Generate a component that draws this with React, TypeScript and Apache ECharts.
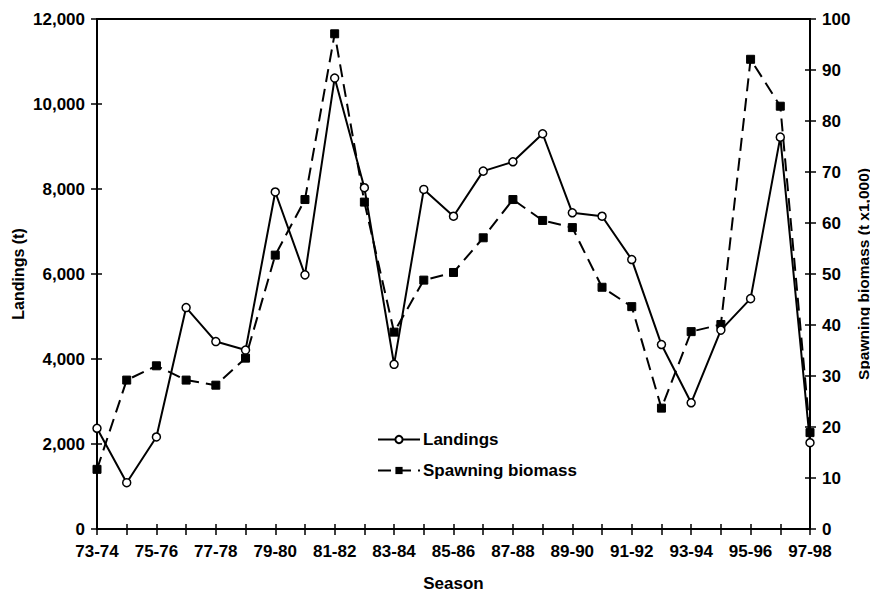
import React, { useEffect, useRef } from "react";
import * as echarts from "echarts";

const seasons = [
  "73-74", "74-75", "75-76", "76-77", "77-78", "78-79", "79-80", "80-81", "81-82",
  "82-83", "83-84", "84-85", "85-86", "86-87", "87-88", "88-89", "89-90", "90-91",
  "91-92", "92-93", "93-94", "94-95", "95-96", "96-97", "97-98",
];
const landings = [
  2370, 1090, 2165, 5210, 4410, 4210, 7930, 5980, 10610, 8030, 3875, 7990, 7360,
  8420, 8640, 9300, 7440, 7360, 6340, 4340, 2970, 4680, 5420, 9220, 2030,
];
const spawningBiomass = [
  11.7, 29.2, 32.0, 29.2, 28.2, 33.5, 53.7, 64.6, 97.1, 64.1, 38.6, 48.8, 50.3,
  57.1, 64.6, 60.5, 59.1, 47.4, 43.6, 23.7, 38.7, 40.1, 92.1, 82.9, 18.9,
];

const FONT = "Liberation Sans";
const textStyle = { fontFamily: FONT, fontWeight: "bold" as const, fontSize: 17, color: "#000" };

export default function App() {
  const ref = useRef<HTMLDivElement>(null);
  useEffect(() => {
    if (!ref.current) return;
    const chart = echarts.init(ref.current, null, { renderer: "svg" });
    chart.setOption({
      animation: false,
      backgroundColor: "#fff",
      textStyle: { fontFamily: FONT },
      grid: {
        left: 97, right: 60, top: 19, bottom: 63,
        containLabel: false,
        outerBoundsMode: "none",
        show: true, borderColor: "#000", borderWidth: 2,
      },
      legend: {
        orient: "vertical",
        left: 372, top: 426,
        itemWidth: 42, itemHeight: 9, itemGap: 14,
        textStyle: { ...textStyle, padding: [0, 0, 0, -2] },
        data: ["Landings", "Spawning biomass"],
      },
      xAxis: [
        {
          type: "category", data: seasons, boundaryGap: false,
          name: "Season", nameLocation: "middle", nameGap: 46,
          nameTextStyle: textStyle,
          axisLine: { lineStyle: { color: "#000", width: 2 } },
          axisTick: { show: true, length: 6, interval: 0, lineStyle: { color: "#000", width: 1.5 } },
          axisLabel: { ...textStyle, interval: 1, margin: 14 },
          splitLine: { show: false },
        },
        {
          type: "category", data: seasons, boundaryGap: false, position: "bottom",
          axisLine: { show: false },
          axisTick: { show: true, inside: true, length: 5, interval: 0, lineStyle: { color: "#000", width: 1.5 } },
          axisLabel: { show: false },
          splitLine: { show: false },
        },
      ],
      yAxis: [
        {
          type: "value", min: 0, max: 12000, interval: 2000, position: "left",
          name: "Landings (t)", nameLocation: "middle", nameGap: 79,
          nameMoveOverlap: false,
          nameTextStyle: { ...textStyle, fontSize: 16, verticalAlign: "middle" },
          axisLine: { show: true, lineStyle: { color: "#000", width: 2 } },
          axisTick: { show: true, length: 6, lineStyle: { color: "#000", width: 1.5 } },
          axisLabel: {
            ...textStyle, margin: 12,
            formatter: (v: number) => v.toLocaleString("en-US"),
          },
          splitLine: { show: false },
        },
        {
          type: "value", min: 0, max: 100, interval: 10, position: "right",
          name: "Spawning biomass (t x1,000)", nameLocation: "middle", nameGap: 53,
          nameRotate: 90, nameMoveOverlap: false,
          nameTextStyle: { ...textStyle, fontSize: 15.5, verticalAlign: "middle" },
          axisLine: { show: true, lineStyle: { color: "#000", width: 2 } },
          axisTick: { show: true, length: 6, lineStyle: { color: "#000", width: 1.5 } },
          axisLabel: { ...textStyle, margin: 12 },
          splitLine: { show: false },
        },
        {
          type: "value", min: 0, max: 12000, interval: 2000, position: "left",
          axisLine: { show: false },
          axisTick: { show: true, inside: true, length: 5, lineStyle: { color: "#000", width: 1.5 } },
          axisLabel: { show: false },
          splitLine: { show: false },
        },
        {
          type: "value", min: 0, max: 100, interval: 10, position: "right",
          axisLine: { show: false },
          axisTick: { show: true, inside: true, length: 5, lineStyle: { color: "#000", width: 1.5 } },
          axisLabel: { show: false },
          splitLine: { show: false },
        },
      ],
      series: [
        {
          name: "Spawning biomass", type: "line", yAxisIndex: 1, data: spawningBiomass,
          symbol: "rect", symbolSize: 8, showSymbol: true,
          lineStyle: { color: "#000", width: 2, type: [13, 7] },
          itemStyle: { color: "#000", borderColor: "#000" },
          z: 2,
        },
        {
          name: "Landings", type: "line", yAxisIndex: 0, data: landings,
          symbol: "circle", symbolSize: 8, showSymbol: true,
          lineStyle: { color: "#000", width: 2 },
          itemStyle: { color: "#fff", borderColor: "#000", borderWidth: 1.5 },
          z: 3,
        },
      ],
    });
    return () => chart.dispose();
  }, []);
  return <div ref={ref} style={{ width: 870, height: 592, position: "absolute", left: 0, top: 0 }} />;
}
